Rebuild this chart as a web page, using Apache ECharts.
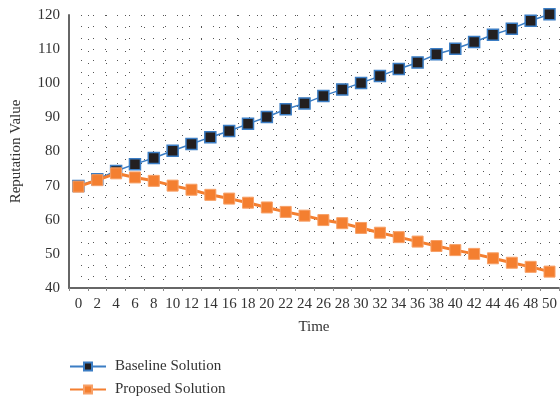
<!DOCTYPE html>
<html>
<head>
<meta charset="utf-8">
<script src="https://cdn.jsdelivr.net/npm/echarts@6/dist/echarts.min.js"></script>
<style>html,body{margin:0;padding:0;background:#fff}#c{width:560px;height:397px}</style>
</head>
<body>
<div id="c"></div>
<script>
var timeLabels = ['0','2','4','6','8','10','12','14','16','18','20','22','24','26','28','30','32','34','36','38','40','42','44','46','48','50'];
var baseline = [69.9,71.9,74.3,76.3,78.1,80.2,82.2,84.2,86.0,88.1,90.1,92.4,94.1,96.3,98.2,100.1,102.1,104.2,106.1,108.5,110.1,112.1,114.2,116.0,118.3,120.2];
var proposed = [69.7,71.6,73.6,72.4,71.4,70.0,68.8,67.3,66.2,65.0,63.6,62.3,61.2,59.9,59.0,57.6,56.2,54.9,53.6,52.3,51.1,50.0,48.7,47.4,46.2,44.8];
var seriesNames = ['Baseline Solution','Proposed Solution'];

var font = 'Liberation Serif, DejaVu Serif, serif';
var dots = {type:[1,11], color:'#555', width:1};
var legendText = {fontFamily:font, fontSize:15, color:'#333', padding:[0,0,0,4]};
var chart = echarts.init(document.getElementById('c'));
chart.setOption({
  animation:false,
  grid:{left:69, right:1, top:15, bottom:109},
  legend:[
    {left:64, top:354, itemWidth:36, itemHeight:10, textStyle:legendText, data:[seriesNames[0]]},
    {left:64, top:377, itemWidth:36, itemHeight:10, textStyle:legendText, data:[seriesNames[1]]}
  ],
  xAxis:{
    type:'category', data:timeLabels, boundaryGap:true,
    name:'Time', nameLocation:'middle', nameGap:32,
    nameTextStyle:{fontFamily:font, fontSize:15, color:'#333'},
    axisLine:{lineStyle:{color:'#666', width:2}},
    axisTick:{show:true, length:3, lineStyle:{color:'#888'}},
    axisLabel:{interval:0, fontFamily:font, fontSize:15, color:'#333', margin:9},
    splitLine:{show:true, lineStyle:dots}
  },
  yAxis:{
    type:'value', min:40, max:120, interval:10,
    name:'Reputation Value', nameLocation:'middle', nameGap:45,
    nameTextStyle:{fontFamily:font, fontSize:15, color:'#333'},
    axisLine:{show:true, lineStyle:{color:'#666', width:2}},
    axisTick:{show:false},
    axisLabel:{fontFamily:font, fontSize:15, color:'#333', margin:9},
    splitLine:{show:true, lineStyle:dots},
    minorTick:{show:false, splitNumber:3},
    minorSplitLine:{show:true, lineStyle:dots}
  },
  series:[
    {name:seriesNames[0], type:'line', data:baseline, symbol:'rect', symbolSize:11, clip:false,
     lineStyle:{color:'#3b7dc4', width:1.5},
     itemStyle:{color:'#231f20', borderColor:'#3b7dc4', borderWidth:1.5}, z:3},
    {name:seriesNames[1], type:'line', data:proposed, symbol:'rect', symbolSize:11, clip:false,
     lineStyle:{color:'#f47f30', width:3},
     itemStyle:{color:'#f47f30', borderColor:'#f7a067', borderWidth:1}, z:4}
  ]
});
</script>
</body>
</html>
